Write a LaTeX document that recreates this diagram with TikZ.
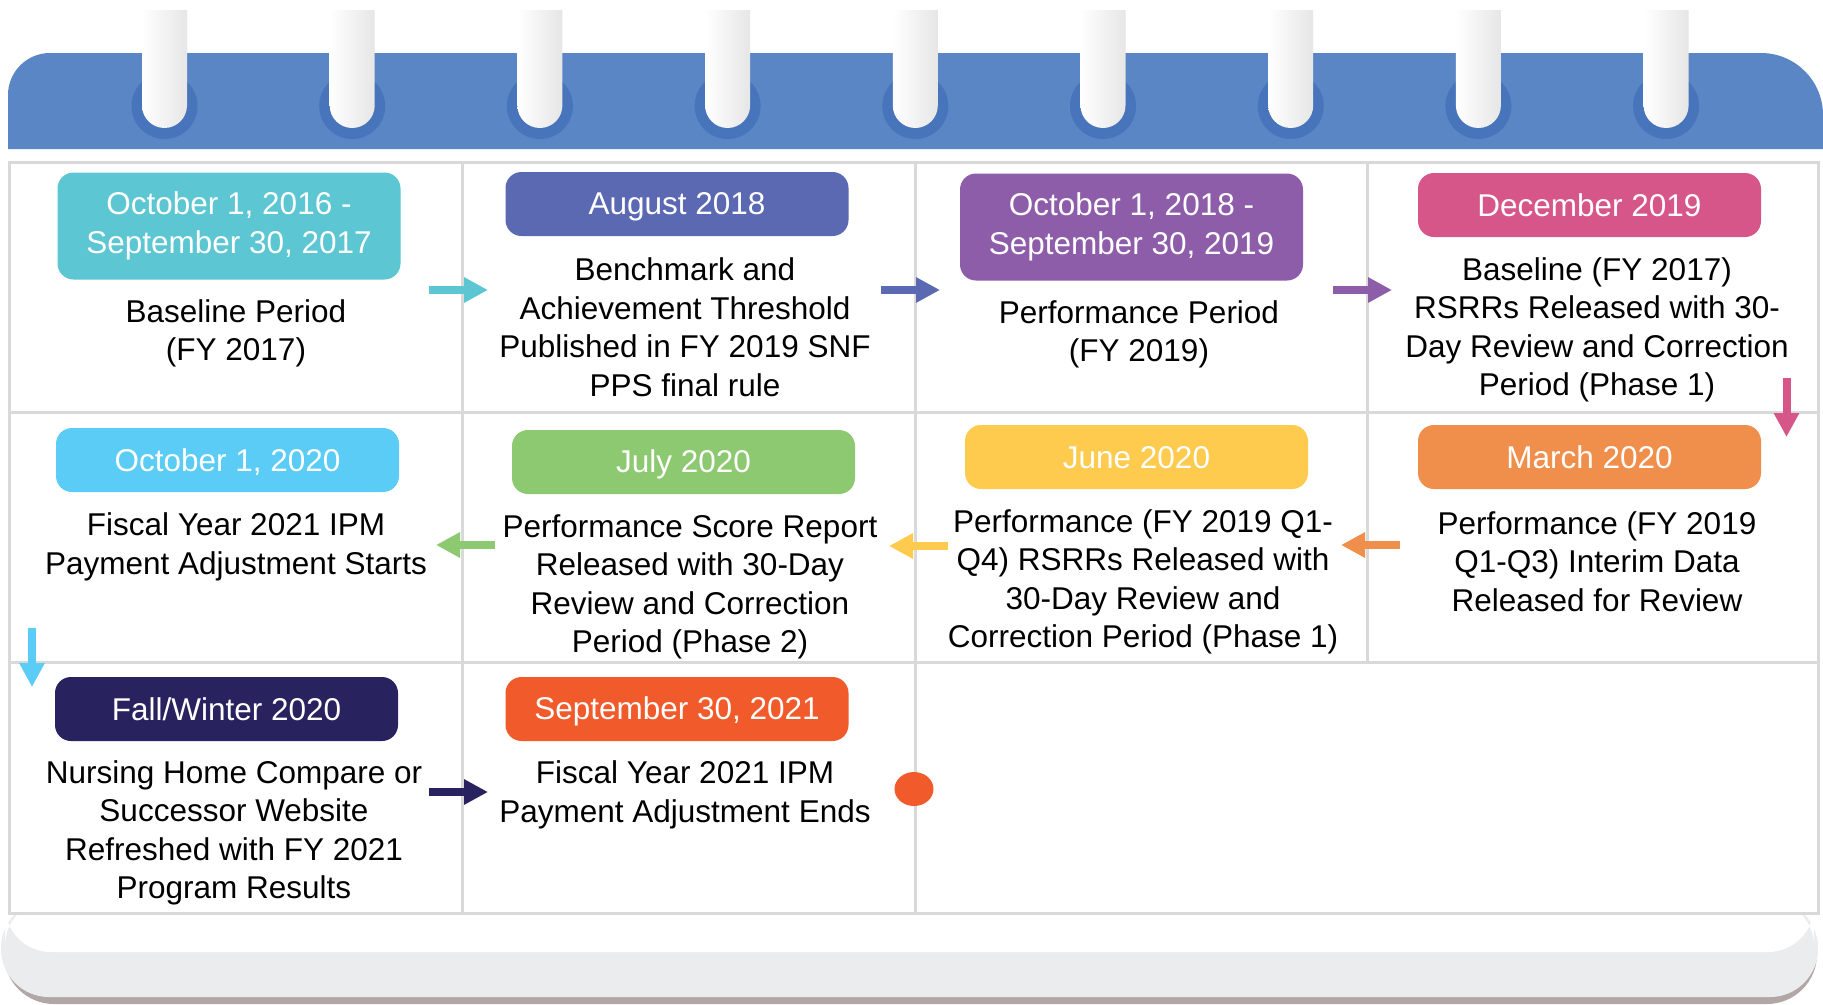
\documentclass[tikz,border=0pt]{standalone}
\usepackage{fontspec}
\setmainfont{Liberation Sans}
\usetikzlibrary{arrows.meta,shapes.geometric}
\definecolor{bandblue}{HTML}{5B86C5}
\definecolor{halo}{HTML}{4774BA}
\definecolor{ringR}{HTML}{E6E6E6}
\definecolor{gridgray}{HTML}{D9D9D9}
\definecolor{cTeal}{HTML}{5CC6D2}
\definecolor{cIndigo}{HTML}{5B68B2}
\definecolor{cPurple}{HTML}{8E5DAA}
\definecolor{cPink}{HTML}{D6568A}
\definecolor{cSky}{HTML}{5ACCF5}
\definecolor{cGreen}{HTML}{8DC970}
\definecolor{cYellow}{HTML}{FECB4E}
\definecolor{cOrange}{HTML}{F08E4C}
\definecolor{cNavy}{HTML}{28225F}
\definecolor{cRed}{HTML}{F15A2A}
\definecolor{pageGray}{HTML}{EBECEE}
\definecolor{pageShadow}{HTML}{B3A6A6}
\newcommand\capstrut{\rule[-4.4pt]{0pt}{31.4pt}}
\begin{document}
\begin{tikzpicture}[x=1pt,y=-1pt,
  txt/.style={font=\fontsize{31.5}{38.5}\selectfont, align=center, inner sep=0pt,
    execute at begin node=\capstrut, execute at end node=\capstrut},
  hdr/.style={txt, text=white, rounded corners=16, minimum width=343pt, fill=#1},
  hone/.style={hdr=#1, minimum height=64pt},
  htwo/.style={hdr=#1, minimum height=107pt},
  arr/.style={line width=8pt, draw=#1, -{Triangle[width=24pt,length=24pt]}},
  gridline/.style={draw=gridgray, line width=3pt}]
\useasboundingbox (0,0) rectangle (1823,1004);
\fill[white] (0,0) rectangle (1823,1004);
% page bottom
\fill[pageShadow, rounded corners=50] (4,905) rectangle (1817,1004);
\fill[pageGray, rounded corners=48] (1,900) rectangle (1818,997);
\fill[white, rounded corners=46] (5,900) rectangle (1814,952);
% blue band
\fill[bandblue] (8,149) -- (8,95) .. controls (8,71.8) and (26.8,53) .. (50,53)
  -- (1761,53) .. controls (1795.2,53) and (1823,80.8) .. (1823,115) -- (1823,149) -- cycle;
% rings
\foreach \i in {0,...,8}{
  \pgfmathsetmacro\cx{164.5+\i*187.7}
  \fill[halo] (\cx,106) circle[radius=33];
  \shade[left color=white, right color=ringR]
    (\cx-22.5,10) -- (\cx-22.5,105.5) .. controls (\cx-22.5,117.9) and (\cx-12.4,128) .. (\cx,128)
    .. controls (\cx+12.4,128) and (\cx+22.5,117.9) .. (\cx+22.5,105.5) -- (\cx+22.5,10) -- cycle;
}
% grid
\fill[white] (9,162) rectangle (1818,913);
\draw[gridline] (9,162) rectangle (1818,913);
\draw[gridline] (9,412) -- (1818,412);
\draw[gridline] (9,662) -- (1818,662);
\draw[gridline] (462,162) -- (462,913);
\draw[gridline] (915,162) -- (915,913);
\draw[gridline] (1367,162) -- (1367,662);
% header boxes
\node[htwo=cTeal] (h1) at (229,226) {October 1, 2016 -\\September 30, 2017};
\node[hone=cIndigo] (h2) at (677,204) {August 2018};
\node[htwo=cPurple] (h3) at (1131.5,227) {October 1, 2018 -\\September 30, 2019};
\node[hone=cPink] (h4) at (1589.5,205) {December 2019};
\node[hone=cSky] (h5) at (227.5,460) {October 1, 2020};
\node[hone=cGreen] (h6) at (683.5,462) {July 2020};
\node[hone=cYellow] (h7) at (1136.5,457) {June 2020};
\node[hone=cOrange] (h8) at (1589.5,457) {March 2020};
\node[hone=cNavy] (h9) at (226.5,709) {Fall/Winter 2020};
\node[hone=cRed] (h10) at (677,709) {September 30, 2021};
% body texts
\node[txt] (t1) at (236,333.3) {Baseline Period\\(FY 2017)};
\node[txt] (t2) at (685,329.3) {Benchmark and\\Achievement Threshold\\Published in FY 2019 SNF\\PPS final rule};
\node[txt] (t3) at (1139,334.3) {Performance Period\\(FY 2019)};
\node[txt] (t4) at (1597,329.7) {Baseline (FY 2017)\\RSRRs Released with 30-\\Day Review and Correction\\Period (Phase 1)};
\node[txt] (t5) at (236,546.7) {Fiscal Year 2021 IPM\\Payment Adjustment Starts};
\node[txt] (t6) at (690,586.7) {Performance Score Report\\Released with 30-Day\\Review and Correction\\Period (Phase 2)};
\node[txt] (t7) at (1143,581.7) {Performance (FY 2019 Q1-\\Q4) RSRRs Released with\\30-Day Review and\\Correction Period (Phase 1)};
\node[txt] (t8) at (1597,563.3) {Performance (FY 2019\\Q1-Q3) Interim Data\\Released for Review};
\node[txt] (t9) at (234,833) {Nursing Home Compare or\\Successor Website\\Refreshed with FY 2021\\Program Results};
\node[txt] (t10) at (685,795) {Fiscal Year 2021 IPM\\Payment Adjustment Ends};
% end dot
\node[fill=cRed, ellipse, minimum width=39pt, minimum height=34pt, inner sep=0pt] (enddot) at (914,789) {};
% arrow coordinates
\coordinate (a1s) at (429,290); \coordinate (a1e) at (488,290);
\coordinate (a2s) at (881,290); \coordinate (a2e) at (940,290);
\coordinate (a3s) at (1333,290); \coordinate (a3e) at (1392,290);
\coordinate (a4s) at (1786.5,378); \coordinate (a4e) at (1786.5,437);
\coordinate (a5s) at (1400,545); \coordinate (a5e) at (1341,545);
\coordinate (a6s) at (948,546); \coordinate (a6e) at (889,546);
\coordinate (a7s) at (495,545); \coordinate (a7e) at (436,545);
\coordinate (a8s) at (32,628); \coordinate (a8e) at (32,687);
\coordinate (a9s) at (429,792); \coordinate (a9e) at (488,792);
\draw[arr=cTeal] (a1s) -- (a1e);
\draw[arr=cIndigo] (a2s) -- (a2e);
\draw[arr=cPurple] (a3s) -- (a3e);
\draw[arr=cPink] (a4s) -- (a4e);
\draw[arr=cOrange] (a5s) -- (a5e);
\draw[arr=cYellow] (a6s) -- (a6e);
\draw[arr=cGreen] (a7s) -- (a7e);
\draw[arr=cSky] (a8s) -- (a8e);
\draw[arr=cNavy] (a9s) -- (a9e);
\end{tikzpicture}
\end{document}
